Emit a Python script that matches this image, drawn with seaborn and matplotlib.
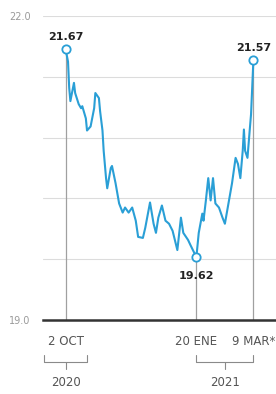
import numpy as np
import pandas as pd
import matplotlib
matplotlib.use("Agg")
import matplotlib.pyplot as plt
import matplotlib.dates as mdates
import matplotlib.transforms as mtransforms
import seaborn as sns

# tipo de cambio (pesos por dolar), lectura aproximada del grafico
dates = [
    "2020-10-02", "2020-10-04", "2020-10-05", "2020-10-06", "2020-10-09", "2020-10-10",
    "2020-10-13", "2020-10-15", "2020-10-16", "2020-10-19", "2020-10-20", "2020-10-23",
    "2020-10-26", "2020-10-27", "2020-10-30", "2020-10-31", "2020-11-02", "2020-11-03",
    "2020-11-05", "2020-11-06", "2020-11-09", "2020-11-10", "2020-11-13", "2020-11-16",
    "2020-11-19", "2020-11-21", "2020-11-24", "2020-11-27", "2020-11-30", "2020-12-02",
    "2020-12-06", "2020-12-08", "2020-12-12", "2020-12-15", "2020-12-17", "2020-12-19",
    "2020-12-22", "2020-12-25", "2020-12-28", "2020-12-31", "2021-01-04", "2021-01-07",
    "2021-01-09", "2021-01-13", "2021-01-15", "2021-01-20", "2021-01-22", "2021-01-25",
    "2021-01-26", "2021-01-28", "2021-01-30", "2021-02-01", "2021-02-03", "2021-02-05",
    "2021-02-08", "2021-02-11", "2021-02-13", "2021-02-16", "2021-02-19", "2021-02-22",
    "2021-02-24", "2021-02-26", "2021-02-28", "2021-03-01", "2021-03-02", "2021-03-04",
    "2021-03-06", "2021-03-07", "2021-03-09",
]
values = [
    21.67, 21.55, 21.29, 21.16, 21.34, 21.24,
    21.13, 21.09, 21.11, 20.99, 20.87, 20.91,
    21.09, 21.24, 21.19, 21.06, 20.87, 20.67,
    20.40, 20.30, 20.50, 20.52, 20.35, 20.15,
    20.06, 20.11, 20.06, 20.11, 19.98, 19.82,
    19.81, 19.91, 20.16, 19.95, 19.86, 20.01,
    20.13, 19.98, 19.95, 19.88, 19.69, 20.01,
    19.86, 19.79, 19.74, 19.62, 19.86, 20.05,
    19.98, 20.18, 20.40, 20.18, 20.40, 20.15,
    20.11, 20.01, 19.95, 20.15, 20.35, 20.60,
    20.54, 20.40, 20.67, 20.88, 20.67, 20.60,
    20.89, 21.03, 21.57,
]

tick_dates = ["2020-10-02", "2021-01-20", "2021-03-09"]
tick_labels = ["2 OCT", "20 ENE", "9 MAR*"]
y_ticks = [22.0, 21.4, 20.8, 20.2, 19.6, 19.0]
y_labels = ["22.0", "", "", "", "", "19.0"]
years = ["2020", "2021"]
year_spans = [("2020-09-14", "2020-10-20"), ("2021-01-20", "2021-03-09")]

df = pd.DataFrame({"fecha": pd.to_datetime(dates), "valor": values})
hl = df.iloc[[0, df["valor"].idxmin(), len(df) - 1]]

sns.set_style("white")
plt.rcParams["font.family"] = ["DejaVu Sans"]

fig = plt.figure(figsize=(2.76, 3.94), dpi=100)
ax = fig.add_axes([0.156, 1 - 320 / 394, 0.844, 304 / 394])

line_color = "#2a9fd6"
gray = "#8a8a8a"

# lineas verticales desde la base hasta los puntos destacados
ax.vlines(hl["fecha"], 19.0, hl["valor"], color="#a0a0a0", lw=0.9, zorder=1)

sns.lineplot(data=df, x="fecha", y="valor", ax=ax, color=line_color, lw=1.5, zorder=3)
ax.scatter(hl["fecha"], hl["valor"], s=36, facecolor="white", edgecolor=line_color,
           linewidth=1.3, zorder=4)

# etiquetas de valores
for i, (d, v) in enumerate(zip(hl["fecha"], hl["valor"])):
    if i == 1:
        ax.annotate(f"{v:.2f}", (d, v), xytext=(0, -10), textcoords="offset points",
                    ha="center", va="top", fontsize=8, fontweight="bold", color="#222222")
    else:
        ax.annotate(f"{v:.2f}", (d, v), xytext=(0, 5), textcoords="offset points",
                    ha="center", va="bottom", fontsize=8, fontweight="bold", color="#222222")

ax.set_ylim(19.0, 22.0)
ax.set_xlim(pd.Timestamp("2020-09-13"), pd.Timestamp("2021-03-28"))
ax.set_yticks(y_ticks)
ax.set_yticklabels(y_labels)
ax.grid(axis="y", color="#dcdcdc", lw=0.8)
ax.grid(axis="x", visible=False)
ax.tick_params(axis="y", length=0, labelsize=7, labelcolor="#9a9a9a", pad=9)
ax.set_xticks(pd.to_datetime(tick_dates))
ax.set_xticklabels(tick_labels)
ax.tick_params(axis="x", length=0, labelsize=8.5, labelcolor="#555555", pad=11)
ax.set_xlabel("")
ax.set_ylabel("")
for side in ["top", "right", "left"]:
    ax.spines[side].set_visible(False)
ax.spines["bottom"].set_color("#333333")
ax.spines["bottom"].set_linewidth(1.8)

# llaves de los años
trans = mtransforms.blended_transform_factory(ax.transData, fig.transFigure)
for yr, (a, b) in zip(years, year_spans):
    xa = mdates.date2num(pd.Timestamp(a))
    xb = mdates.date2num(pd.Timestamp(b))
    xm = (xa + xb) / 2
    y_top, y_bar, y_tick = 1 - 355 / 394, 1 - 362 / 394, 1 - 369 / 394
    ax.plot([xa, xa, xb, xb], [y_top, y_bar, y_bar, y_top], transform=trans,
            color=gray, lw=0.8, clip_on=False)
    ax.plot([xm, xm], [y_bar, y_tick], transform=trans, color=gray, lw=0.8, clip_on=False)
    ax.text(xm, 1 - 382 / 394, yr, transform=trans, ha="center", va="center",
            fontsize=8.5, color="#555555")

fig.savefig("out.png", dpi=100)
